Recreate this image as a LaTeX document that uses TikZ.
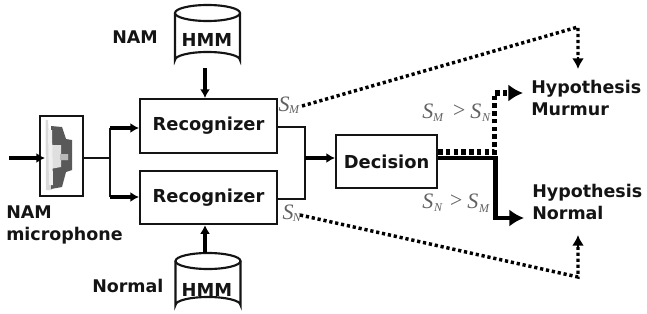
\documentclass[tikz,border=0pt]{standalone}
\usepackage{fontspec}
\setmainfont{DejaVu Sans}
\usetikzlibrary{arrows.meta,shapes.geometric}
\newfontfamily\scorefont{Liberation Serif}[Ligatures=TeX]
\definecolor{ink}{gray}{0.08}
\definecolor{scoreink}{gray}{0.38}
\tikzset{
  every node/.style={text=ink},
  blockbox/.style={draw=ink,line width=1.6pt,inner sep=0pt,anchor=north west},
  blocktext/.style={font=\bfseries\fontsize{13.4}{15}\selectfont},
  caption/.style={font=\bfseries\fontsize{13.1}{16.5}\selectfont,align=left,anchor=west,inner sep=0pt},
  wire/.style={draw=ink,line width=1.6pt},
  feed/.style={draw=black,line width=2.4pt,-{Latex[length=6.5pt,width=7.5pt]}},
  heavy/.style={draw=black,line width=3.7pt,-{Latex[length=11pt,width=13pt]}},
  heavydot/.style={draw=black,line width=3.9pt,dash pattern=on 3.4pt off 2.4pt},
  thindot/.style={draw=black,line width=2.6pt,dash pattern=on 2.4pt off 2.1pt},
  dottip/.style={draw=black,line width=1.6pt,-{Latex[length=8pt,width=9pt]}},
  score/.style={font=\scorefont\itshape\fontsize{16.5}{19}\selectfont,text=scoreink,inner sep=0pt},
  sub/.style={font=\scorefont\itshape\fontsize{9}{10}\selectfont,text=scoreink,inner sep=0pt},
}
\newcommand{\dbcylinder}[3]{%
  % #1 centre x, #2 top-rim y, #3 bottom-rim y
  \draw[ink,line width=1.6pt,fill=white]
    (#1-32.5,#2) -- (#1-32.5,#3) arc[start angle=180,end angle=360,x radius=32.5,y radius=8]
    -- (#1+32.5,#2);
  \draw[ink,line width=1.6pt,fill=white] (#1,#2) ellipse[x radius=32.5,y radius=8];
}
\begin{document}
\begin{tikzpicture}[x=0.75pt,y=-0.75pt]
\useasboundingbox (0,0) rectangle (647,314);

% Microphone block with its cut-away capsule
\node[blockbox,minimum width=32.25pt,minimum height=60pt] (mic) at (39,115) {};
\fill[gray!30] (45.5,120) -- (48,120) -- (52,190) -- (46,190) -- cycle;
\fill[gray!70!black] (51,126) -- (62,127) -- (66,139) -- (72,140) -- (72,170) -- (66,172) -- (62,187) -- (51,189) -- cycle;
\fill[gray!25] (50,145) -- (61,145) -- (61,154) -- (68,154) -- (68,160) -- (61,160) -- (61,167) -- (50,169) -- cycle;
\fill[gray!12] (48,130) -- (52,130) -- (53,185) -- (49,185) -- cycle;
\fill[gray!55] (60,154) -- (68,154) -- (68,160) -- (60,160) -- cycle;

% Recognizers and decision
\node[blockbox,blocktext,minimum width=102.75pt,minimum height=40.5pt] (recM) at (139,98) {Recognizer};
\node[blockbox,blocktext,minimum width=102.75pt,minimum height=39.75pt] (recN) at (139,170) {Recognizer};
\node[blockbox,blocktext,minimum width=75.75pt,minimum height=40pt] (dec) at (335,134) {Decision};

% HMM model stores
\dbcylinder{207.5}{13}{60}
\dbcylinder{208}{261}{305}
\node[blocktext] (hmmM) at (207,40) {HMM};
\node[blocktext] (hmmN) at (207,290) {HMM};
\coordinate (hmmMbot) at (205,68);
\coordinate (hmmNtop) at (205,253);

% Captions
\node[caption] (namlab) at (112,37) {NAM};
\node[caption] (normlab) at (92,286) {Normal};
\node[caption] (miclab) at (6,225) {NAM\\microphone};
\node[caption] (hypM) at (531,97.5) {Hypothesis\\Murmur};
\node[caption] (hypN) at (532,202) {Hypothesis\\Normal};

% Input side
\coordinate (input) at (9,158);
\coordinate (split) at (110,158);
\draw[feed] (input) -- (45,158);
\draw[wire] (mic.east |- split) -- (split);
\draw[wire] (110,128) -- (110,197);
\draw[feed] (110,128) -- (recM.west |- 0,128);
\draw[feed] (110,197) -- (recN.west |- 0,197);

% Models feed the recognizers
\draw[feed] (hmmMbot) -- (recM.north -| hmmMbot);
\draw[feed] (hmmNtop) -- (recN.south -| hmmNtop);

% Recognizers to decision
\coordinate (join) at (305,158);
\draw[wire] (recM.east |- 0,127) -| (join);
\draw[wire] (recN.east |- 0,199) -| (join);
\draw[feed] (join) -- (dec.west |- join);

% Decision outcomes
\coordinate (cornerM) at (494.5,93);
\coordinate (cornerN) at (495.5,218);
\draw[heavydot] (dec.east |- 0,152) -| (cornerM) -- (508,93);
\draw[black,line width=3.7pt,-{Latex[length=11pt,width=13pt]}] (510,93) -- (523,93);
\draw[heavy] (dec.east |- 0,158) -| (cornerN) -- (524,218);

% Scores sent towards the hypotheses
\coordinate (bendM) at (578,27);
\coordinate (bendN) at (578,277);
\draw[thindot] (302,106) -- (bendM) -- (578,58);
\draw[dottip] (578,57) -- (578,69);
\draw[thindot] (300,215) -- (bendN) -- (578,247);
\draw[dottip] (578,248) -- (578,235);

% Score labels
\node[score] (sm) at (284,104) {S};
\node[sub] at (294,110) {M};
\node[score] (sn) at (288,212) {S};
\node[sub] at (297,218) {N};

\node[score,anchor=west] at (422,111) {S};
\node[sub] at (438,118) {M};
\node[score] at (459,111) {>};
\node[score,anchor=west] at (470,111) {S};
\node[sub] at (486,118) {N};

\node[score,anchor=west] at (422,201) {S};
\node[sub] at (438,208) {N};
\node[score] at (456,201) {>};
\node[score,anchor=west] at (467,201) {S};
\node[sub] at (484,209) {M};
\end{tikzpicture}
\end{document}
